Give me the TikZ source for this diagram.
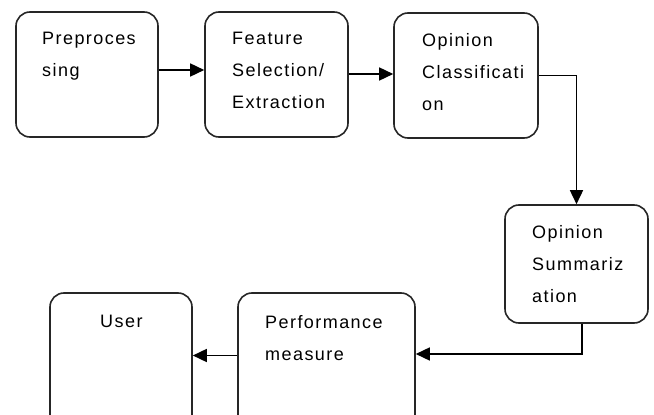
\documentclass[tikz,border=0pt]{standalone}
\usepackage{fontspec}
\newfontfamily\boxfont[LetterSpace=8]{Liberation Sans}
\usetikzlibrary{arrows.meta,positioning}
\tikzset{
  stagebox/.style={draw=black!85, line width=1.6pt, rounded corners=14pt, fill=white, inner sep=0pt},
  lbl/.style={anchor=north west, inner sep=0pt, align=left, font=\boxfont\fontsize{18}{32}\selectfont, text=black},
  arr/.style={draw=black, line width=1.6pt, -{Triangle[length=14pt,width=13pt]}},
}
\begin{document}
\begin{tikzpicture}[x=1pt,y=-1pt]
\useasboundingbox (0,0) rectangle (654,415);
\begin{scope}
\clip (0,0) rectangle (654,415);
% boxes
\node[stagebox, minimum width=142pt, minimum height=125pt] (a) at (87,74.5) {};
\node[stagebox, minimum width=143pt, minimum height=125pt] (b) at (276.5,74.5) {};
\node[stagebox, minimum width=144pt, minimum height=125pt] (c) at (466,75.5) {};
\node[stagebox, minimum width=143pt, minimum height=118pt] (d) at (576.5,264) {};
\node[stagebox, minimum width=177pt, minimum height=150pt] (e) at (326.5,368) {};
\node[stagebox, minimum width=142pt, minimum height=150pt] (f) at (121,368) {};
% texts
\node[lbl] (ta) at (42,32) {Preproces\\sing};
\node[lbl] (tb) at (232,32) {Feature\\Selection/\\Extraction};
\node[lbl] (tc) at (422,33.5) {Opinion\\Classificati\\on};
\node[lbl] (td) at (532,225.5) {Opinion\\Summariz\\ation};
\node[lbl] (te) at (265,315) {Performance\\measure};
\node[lbl] (tf) at (100,315) {User};
% connectors
\coordinate (ya) at (0,70);
\coordinate (yb) at (0,74);
\coordinate (ye) at (0,354);
\coordinate (yf) at (0,355.5);
\coordinate (xd) at (582,0);
\draw[arr] (a.east |- ya) -- (b.west |- ya);
\draw[arr] (b.east |- yb) -- (c.west |- yb);
\draw[arr] (c.east) -| (d.north);
\draw[arr] (d.south -| xd) |- (e.east |- ye);
\draw[arr] (e.west |- yf) -- (f.east |- yf);
\end{scope}
\end{tikzpicture}
\end{document}
